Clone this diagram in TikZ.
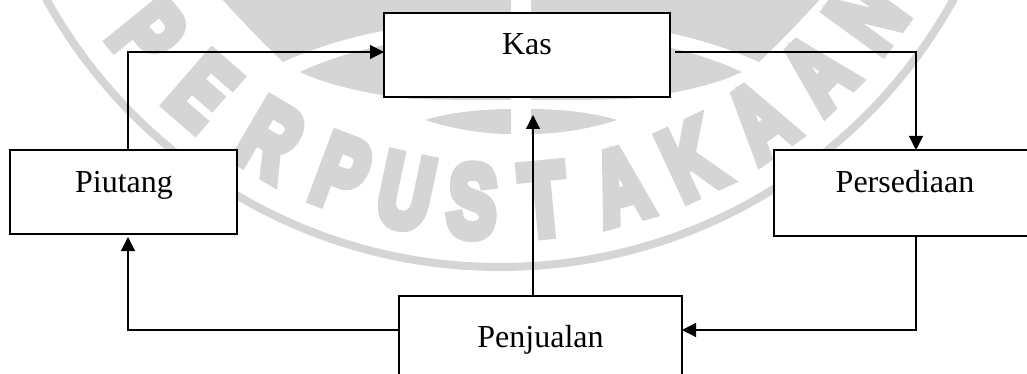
\documentclass[tikz,border=0pt]{standalone}
\usepackage{fontspec}
\setmainfont{Liberation Serif}
\newfontfamily\wmfont{Liberation Sans}[FakeBold=10]
\usetikzlibrary{arrows.meta,calc}
\definecolor{wmgray}{RGB}{213,213,213}
\tikzset{
  box/.style={draw=black,line width=0.9pt,fill=white,inner sep=0pt,outer sep=0pt},
  lbl/.style={inner sep=0pt,anchor=base,font=\fontsize{24}{28}\selectfont},
  arr/.style={line width=0.9pt,-{Triangle[length=10.5pt,width=10.5pt]}},
  wm/.style={text=wmgray,inner sep=0pt,font=\wmfont\bfseries\fontsize{76}{76}\selectfont}
}
\newcommand\wmhalf{%
  \fill[wmgray] (190,-40) -- (205,-20) .. controls (240,20) and (265,45) .. (283,62)
     .. controls (320,45) and (360,35) .. (383,31) .. controls (430,22) and (480,18) .. (511,18)
     -- (511,-40) -- cycle;
  \fill[wmgray] (300,72) .. controls (330,58) and (360,50) .. (384,45)
     .. controls (430,36) and (480,31) .. (511,30) -- (511,100)
     .. controls (470,100) and (430,100) .. (400,98) .. controls (360,92) and (325,84) .. (300,72) -- cycle;
  \fill[wmgray] (425,120) .. controls (450,112) and (485,109) .. (511,109) -- (511,134)
     .. controls (480,134) and (450,128) .. (425,120) -- cycle;
}
\begin{document}
\begin{tikzpicture}[x=0.75pt,y=-0.75pt]
\useasboundingbox (0,0) rectangle (1027,374);
\clip (0,0) rectangle (1027,374);
% watermark
\draw[wmgray,line width=6pt] (500,-251) circle[radius=518];
\wmhalf
\begin{scope}[shift={(1042,0)},xscale=-1]
\wmhalf
\end{scope}
\foreach \l/\a [count=\i] in {P/-51,E/-41,R/-30.5,P/-20.5,U/-12,S/-3.5,T/5.5,A/15.5,K/25,A/35,A/44.5,N/54}
  \node[wm,rotate=\a,xscale=0.72] (wm\i) at ({500+453*sin(\a)},{-251+453*cos(\a)}) {\l};
% boxes
\node[box,minimum width={286*0.75pt},minimum height={84*0.75pt}] (kas) at (527,55) {};
\node[box,minimum width={227*0.75pt},minimum height={84*0.75pt}] (piutang) at (123.5,192) {};
\node[box,minimum width={262*0.75pt},minimum height={86*0.75pt}] (persediaan) at (905,193) {};
\node[box,minimum width={283*0.75pt},minimum height={84*0.75pt}] (penjualan) at (540.5,338) {};
% labels
\node[lbl] (tkas) at (527,55) {Kas};
\node[lbl] (tpiutang) at (124,192) {Piutang};
\node[lbl] (tpersediaan) at (905,192) {Persediaan};
\node[lbl] (tpenjualan) at (540.5,347) {Penjualan};
% connectors
\coordinate (c1) at ($(piutang.north)+(4.5,0)$);
\draw[arr] (c1) |- ($(kas.west)+(0,-3)$);
\coordinate (c2) at ($(kas.east)+(5,-3)$);
\draw[arr] (c2) -| ($(persediaan.north)+(11,0)$);
\coordinate (c3) at ($(penjualan.north)+(-7.5,0)$);
\draw[arr] (c3) -- ($(kas.south)+(6,18)$);
\coordinate (c4) at ($(persediaan.south)+(11,0)$);
\draw[arr] (c4) |- ($(penjualan.east)+(0,-8)$);
\coordinate (c5) at ($(penjualan.west)+(0,-8)$);
\draw[arr] (c5) -| ($(piutang.south)+(4.5,3)$);
\end{tikzpicture}
\end{document}
